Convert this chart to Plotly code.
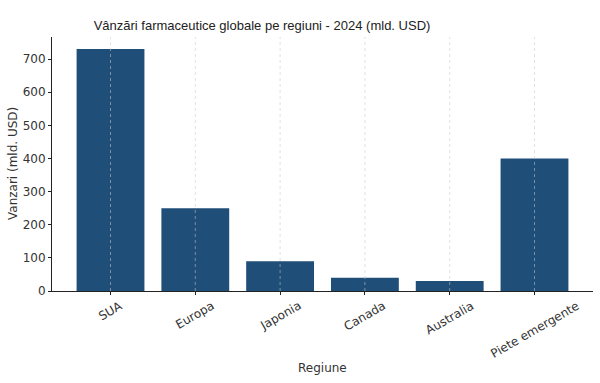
import plotly.graph_objects as go

regions = ["SUA", "Europa", "Japonia", "Canada", "Australia", "Piete emergente"]
sales = [730, 250, 90, 40, 30, 400]

title_text = "Vânzări farmaceutice globale pe regiuni - 2024 (mld. USD)"
x_title = "Regiune"
y_title = "Vanzari (mld. USD)"
y_ticks = [0, 100, 200, 300, 400, 500, 600, 700]

fig = go.Figure(go.Bar(
    x=list(range(len(regions))), y=sales,
    marker=dict(color="#1f4e79", line=dict(width=0)),
    width=0.8,
))

for i, name in enumerate(regions):
    fig.add_shape(type="line", xref="x", yref="paper", x0=i, x1=i, y0=0, y1=1,
                  line=dict(color="rgba(200,200,200,0.55)", width=1, dash="dot"), layer="above")
    # rotated tick label, centered under its category like matplotlib's ha='center'
    fig.add_annotation(x=i, xref="x", y=0, yref="paper", text=name, showarrow=False,
                       textangle=-30, xanchor="center", yanchor="top", yshift=-5,
                       font=dict(family="DejaVu Sans", size=12, color="#333"))

fig.add_annotation(x=0.5, xref="paper", y=-77/254, yref="paper", text=x_title,
                   showarrow=False, xanchor="center", yanchor="middle",
                   font=dict(family="DejaVu Sans", size=12, color="#333"))
fig.add_annotation(x=(13-52)/541, xref="paper", y=0.5, yref="paper", text=y_title,
                   showarrow=False, textangle=-90, xanchor="center", yanchor="middle",
                   font=dict(family="DejaVu Sans", size=12, color="#333"))

fig.update_layout(
    width=600, height=383,
    margin=dict(l=52, r=7, t=37, b=92, autoexpand=False),
    paper_bgcolor="white", plot_bgcolor="white",
    showlegend=False,
    title=dict(text=title_text, x=262/600, xanchor="center", xref="container",
               y=1-25/383, yanchor="middle", pad=dict(t=0, b=0, l=0, r=0),
               font=dict(family="Liberation Sans, Arial", size=13, color="#222")),
    font=dict(family="DejaVu Sans", color="#333"),
    xaxis=dict(
        tickmode="array", tickvals=list(range(len(regions))), ticktext=regions,
        range=[-0.69, 5.69], showticklabels=False,
        showgrid=False,
        showline=True, linecolor="#222", linewidth=1, zeroline=False,
        ticks="outside", ticklen=3, tickcolor="#222",
        automargin=False,
    ),
    yaxis=dict(
        range=[0, 766.5], tickvals=y_ticks,
        showgrid=False, showline=True, linecolor="#222", linewidth=1, zeroline=False,
        ticks="outside", ticklen=3, tickcolor="#222",
        tickfont=dict(size=12, color="#333"),
        automargin=False,
    ),
)

fig.write_html("out.html", config={"displayModeBar": False},
               post_script="document.body.style.margin='0';document.body.style.overflow='hidden';")
